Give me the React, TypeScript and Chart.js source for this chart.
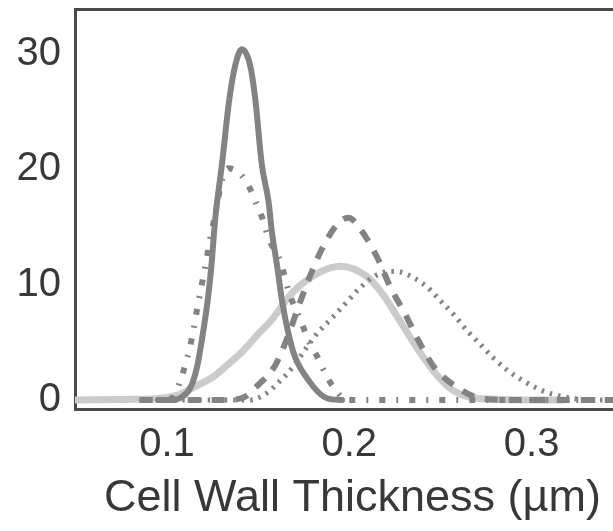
import { useEffect, useRef } from "react";
import { Chart, registerables } from "chart.js";

Chart.register(...registerables);

// Tick labels
const xTickValues = [0.1, 0.2, 0.3];
const yTickValues = [0, 10, 20, 30];
const xAxisTitle = "Cell Wall Thickness (µm)";

// Narrow solid dark curve
const narrowSolidX = [0.095, 0.103, 0.107, 0.1126, 0.1163, 0.1196, 0.1222, 0.1242, 0.1265, 0.1301, 0.1342, 0.1374, 0.141, 0.1456, 0.1484, 0.152, 0.1557, 0.1575, 0.1605, 0.1632, 0.1692, 0.1768, 0.1878, 0.196];
const narrowSolidY = [0, 0, 0.15, 1.0, 2.75, 5.7, 8.5, 11.4, 15.8, 20.4, 26.1, 29.0, 30.4, 29.0, 26.1, 20.4, 17.2, 14.6, 11.5, 8.5, 4.2, 1.9, 0.15, 0];

// Dashed dark curve
const dashedX = [0.085, 0.1328, 0.1429, 0.1493, 0.1593, 0.166, 0.1721, 0.1786, 0.185, 0.1932, 0.1995, 0.207, 0.2152, 0.2225, 0.2308, 0.2381, 0.2463, 0.2582, 0.272, 0.2885, 0.354];
const dashedY = [0, 0, 0.3, 1.2, 3.0, 5.4, 8.1, 10.8, 13.1, 15.2, 15.8, 14.6, 12.4, 9.8, 7.4, 5.1, 2.9, 1.2, 0.15, 0, 0];

// Dash-dot dark curve
const dashDotX = [0.085, 0.0907, 0.1033, 0.1071, 0.1099, 0.1126, 0.1145, 0.1163, 0.1181, 0.1199, 0.1218, 0.1236, 0.1254, 0.1275, 0.13, 0.1335, 0.1401, 0.1456, 0.1493, 0.1529, 0.1557, 0.1612, 0.1639, 0.1666, 0.174, 0.1786, 0.1823, 0.1868, 0.1918, 0.1987, 0.354];
const dashDotY = [0, 0, 0.2, 1.6, 3.0, 4.6, 6.1, 7.7, 9.2, 10.7, 12.3, 13.9, 15.3, 17.0, 19.0, 20.1, 19.6, 18.3, 16.9, 15.5, 14.0, 12.4, 11.1, 9.5, 6.6, 4.8, 3.8, 2.3, 1.0, 0, 0];

// Dotted dark curve
const dottedX = [0.085, 0.1456, 0.1538, 0.161, 0.1687, 0.1768, 0.183, 0.1905, 0.1987, 0.2051, 0.2134, 0.2225, 0.228, 0.2353, 0.2427, 0.25, 0.2573, 0.2647, 0.272, 0.2793, 0.2866, 0.294, 0.3013, 0.3086, 0.3159, 0.3233, 0.3324, 0.354];
const dottedY = [0, 0, 0.5, 1.5, 2.8, 4.6, 5.9, 7.1, 8.5, 9.6, 10.7, 11.15, 11.1, 10.6, 9.8, 8.6, 7.4, 6.0, 4.8, 3.6, 2.6, 1.8, 1.15, 0.65, 0.35, 0.12, 0, 0];

// Broad solid light curve
const broadSolidX = [0.0495, 0.078, 0.0962, 0.1071, 0.1145, 0.1253, 0.1328, 0.1401, 0.1511, 0.1566, 0.1694, 0.1841, 0.1951, 0.2097, 0.2187, 0.228, 0.2372, 0.2463, 0.2555, 0.2647, 0.283, 0.3176];
const broadSolidY = [0, 0.05, 0.15, 0.5, 1.1, 2.0, 3.0, 4.0, 5.9, 6.8, 9.4, 11.1, 11.6, 10.7, 9.1, 6.8, 4.5, 2.5, 1.0, 0.3, 0.05, 0];

const toPoints = (xs: number[], ys: number[]) => xs.map((x, i) => ({ x, y: ys[i] }));

const FONT = "'Liberation Sans', Arial, sans-serif";
const TEXT = "#383838";
const AXIS = "#4a4a4a";
const DARK = "#838383";
const LIGHT = "#cbcbcb";

export default function App() {
  const ref = useRef<HTMLCanvasElement | null>(null);

  useEffect(() => {
    if (!ref.current) return;
    const chart = new Chart(ref.current, {
      type: "line",
      data: {
        datasets: [
          {
            label: "narrow solid",
            data: toPoints(narrowSolidX, narrowSolidY),
            borderColor: DARK,
            borderWidth: 6,
            borderCapStyle: "round",
          },
          {
            label: "dashed",
            data: toPoints(dashedX, dashedY),
            borderColor: DARK,
            borderWidth: 6,
            borderDash: [13, 11],
          },
          {
            label: "dash-dot",
            data: toPoints(dashDotX, dashDotY),
            borderColor: DARK,
            borderWidth: 6,
            borderDash: [6, 11, 2, 11],
          },
          {
            label: "dotted",
            data: toPoints(dottedX, dottedY),
            borderColor: DARK,
            borderWidth: 5,
            borderDash: [2.5, 6],
          },
          {
            label: "broad solid",
            data: toPoints(broadSolidX, broadSolidY),
            borderColor: LIGHT,
            borderWidth: 7,
            borderCapStyle: "round",
          },
        ],
      },
      options: {
        animation: false,
        responsive: false,
        devicePixelRatio: 1,
        layout: { padding: { top: 9, left: 0, right: 0, bottom: 0 } },
        plugins: { legend: { display: false }, tooltip: { enabled: false } },
        elements: {
          point: { radius: 0 },
          line: { cubicInterpolationMode: "monotone", fill: false },
        },
        scales: {
          x: {
            type: "linear",
            min: 0.0495,
            max: 0.354,
            grid: { display: false, drawTicks: false },
            border: { display: true, color: AXIS, width: 3 },
            ticks: {
              padding: 12,
              color: TEXT,
              font: { family: FONT, size: 40 },
              callback: (v: any) => Number(v).toFixed(1),
            },
            afterBuildTicks: (s: any) => {
              s.ticks = xTickValues.map((v) => ({ value: v }));
            },
            afterFit: (s: any) => {
              s.height = 122;
              s.paddingLeft = 0;
              s.paddingRight = 0;
            },
            title: {
              display: true,
              text: xAxisTitle,
              color: TEXT,
              font: { family: FONT, size: 45 },
              padding: { top: 0, bottom: 5 },
            },
          },
          x2: {
            type: "linear",
            position: "top",
            min: 0.0495,
            max: 0.354,
            grid: { display: false, drawTicks: false },
            ticks: { display: false },
            border: { display: true, color: AXIS, width: 3 },
            afterFit: (s: any) => {
              s.height = 0;
              s.paddingLeft = 0;
              s.paddingRight = 0;
            },
          },
          y: {
            type: "linear",
            min: -0.78,
            max: 33.9,
            grid: { display: false, drawTicks: false },
            border: { display: true, color: AXIS, width: 3 },
            ticks: {
              padding: 14,
              color: TEXT,
              font: { family: FONT, size: 40 },
              callback: (v: any) => String(v),
            },
            afterBuildTicks: (s: any) => {
              s.ticks = yTickValues.map((v) => ({ value: v }));
            },
            afterFit: (s: any) => {
              s.width = 75;
              s.paddingTop = 0;
              s.paddingBottom = 0;
            },
          },
        },
      },
    } as any);
    return () => chart.destroy();
  }, []);

  return (
    <div
      style={{
        position: "fixed",
        left: 0,
        top: 0,
        width: 613,
        height: 531,
        overflow: "hidden",
        background: "#ffffff",
      }}
    >
      <canvas ref={ref} width={630} height={531} style={{ display: "block", width: 630, height: 531 }} />
    </div>
  );
}
